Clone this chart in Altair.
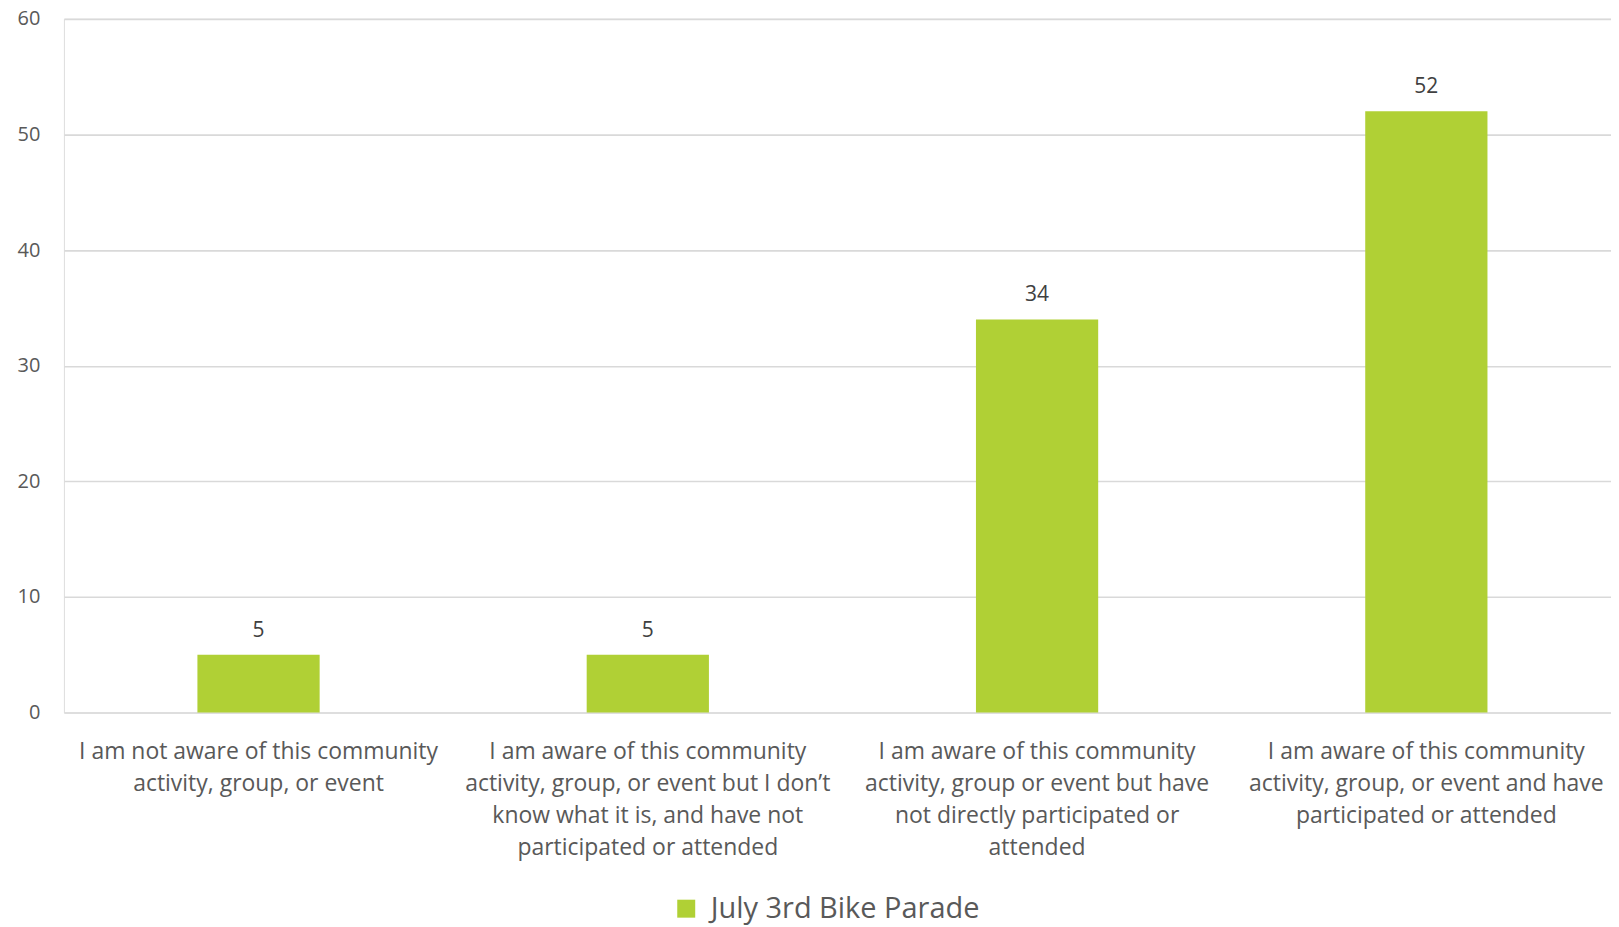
import altair as alt
import pandas as pd

categories = [
    "I am not aware of this community|activity, group, or event",
    "I am aware of this community|activity, group, or event but I don\u2019t|know what it is, and have not|participated or attended",
    "I am aware of this community|activity, group or event but have|not directly participated or|attended",
    "I am aware of this community|activity, group, or event and have|participated or attended",
]
values = [5, 5, 34, 52]
series = ["July 3rd Bike Parade"] * 4

df = pd.DataFrame({"category": categories, "value": values, "series": series})

FONT = "Open Sans"
GREEN = "#b0d035"
TXT = "#595959"

x = alt.X(
    "category:N",
    sort=categories,
    title=None,
    scale=alt.Scale(range=[0, 1560], paddingInner=0.686, paddingOuter=0.343),
    axis=alt.Axis(
        labelAngle=0,
        labelExpr="split(datum.label, '|')",
        labelFont=FONT,
        labelFontSize=23,
        labelColor=TXT,
        labelLineHeight=32,
        labelPadding=28,
        labelLimit=0,
        ticks=False,
        tickSize=0,
        domain=False,
        grid=False,
    ),
)

y = alt.Y(
    "value:Q",
    title=None,
    scale=alt.Scale(domain=[0, 60]),
    axis=alt.Axis(
        values=[0, 10, 20, 30, 40, 50, 60],
        labelFont=FONT,
        labelFontSize=20,
        labelColor=TXT,
        labelPadding=24,
        ticks=False,
        tickSize=0,
        domain=False,
        gridColor="#d9d9d9",
        gridWidth=1.6,
    ),
)

bars = alt.Chart(df).mark_bar(color=GREEN).encode(
    x=x,
    y=y,
    color=alt.Color(
        "series:N",
        scale=alt.Scale(range=[GREEN]),
        legend=alt.Legend(
            title=None,
            orient="none",
            legendX=609,
            legendY=877,
            symbolType="square",
            symbolSize=324,
            symbolStrokeWidth=0,
            symbolFillColor=GREEN,
            labelFont=FONT,
            labelFontSize=29,
            labelColor=TXT,
            labelOffset=10,
            labelLimit=0,
            padding=0,
        ),
    ),
)

labels = alt.Chart(df).mark_text(
    font=FONT, fontSize=21, color="#404040", baseline="alphabetic", dy=-18
).encode(x=alt.X("category:N", sort=categories), y="value:Q", text="value:Q")

chart = (
    alt.layer(bars, labels)
    .properties(
        width=1550,
        height=695,
        autosize=alt.AutoSizeParams(type="none"),
        padding={"left": 56, "top": 10, "right": 0, "bottom": 214},
    )
    .configure_view(stroke=None)
    .configure(background="white")
)

chart.save("out.html", embed_options={"renderer": "svg", "actions": False})
